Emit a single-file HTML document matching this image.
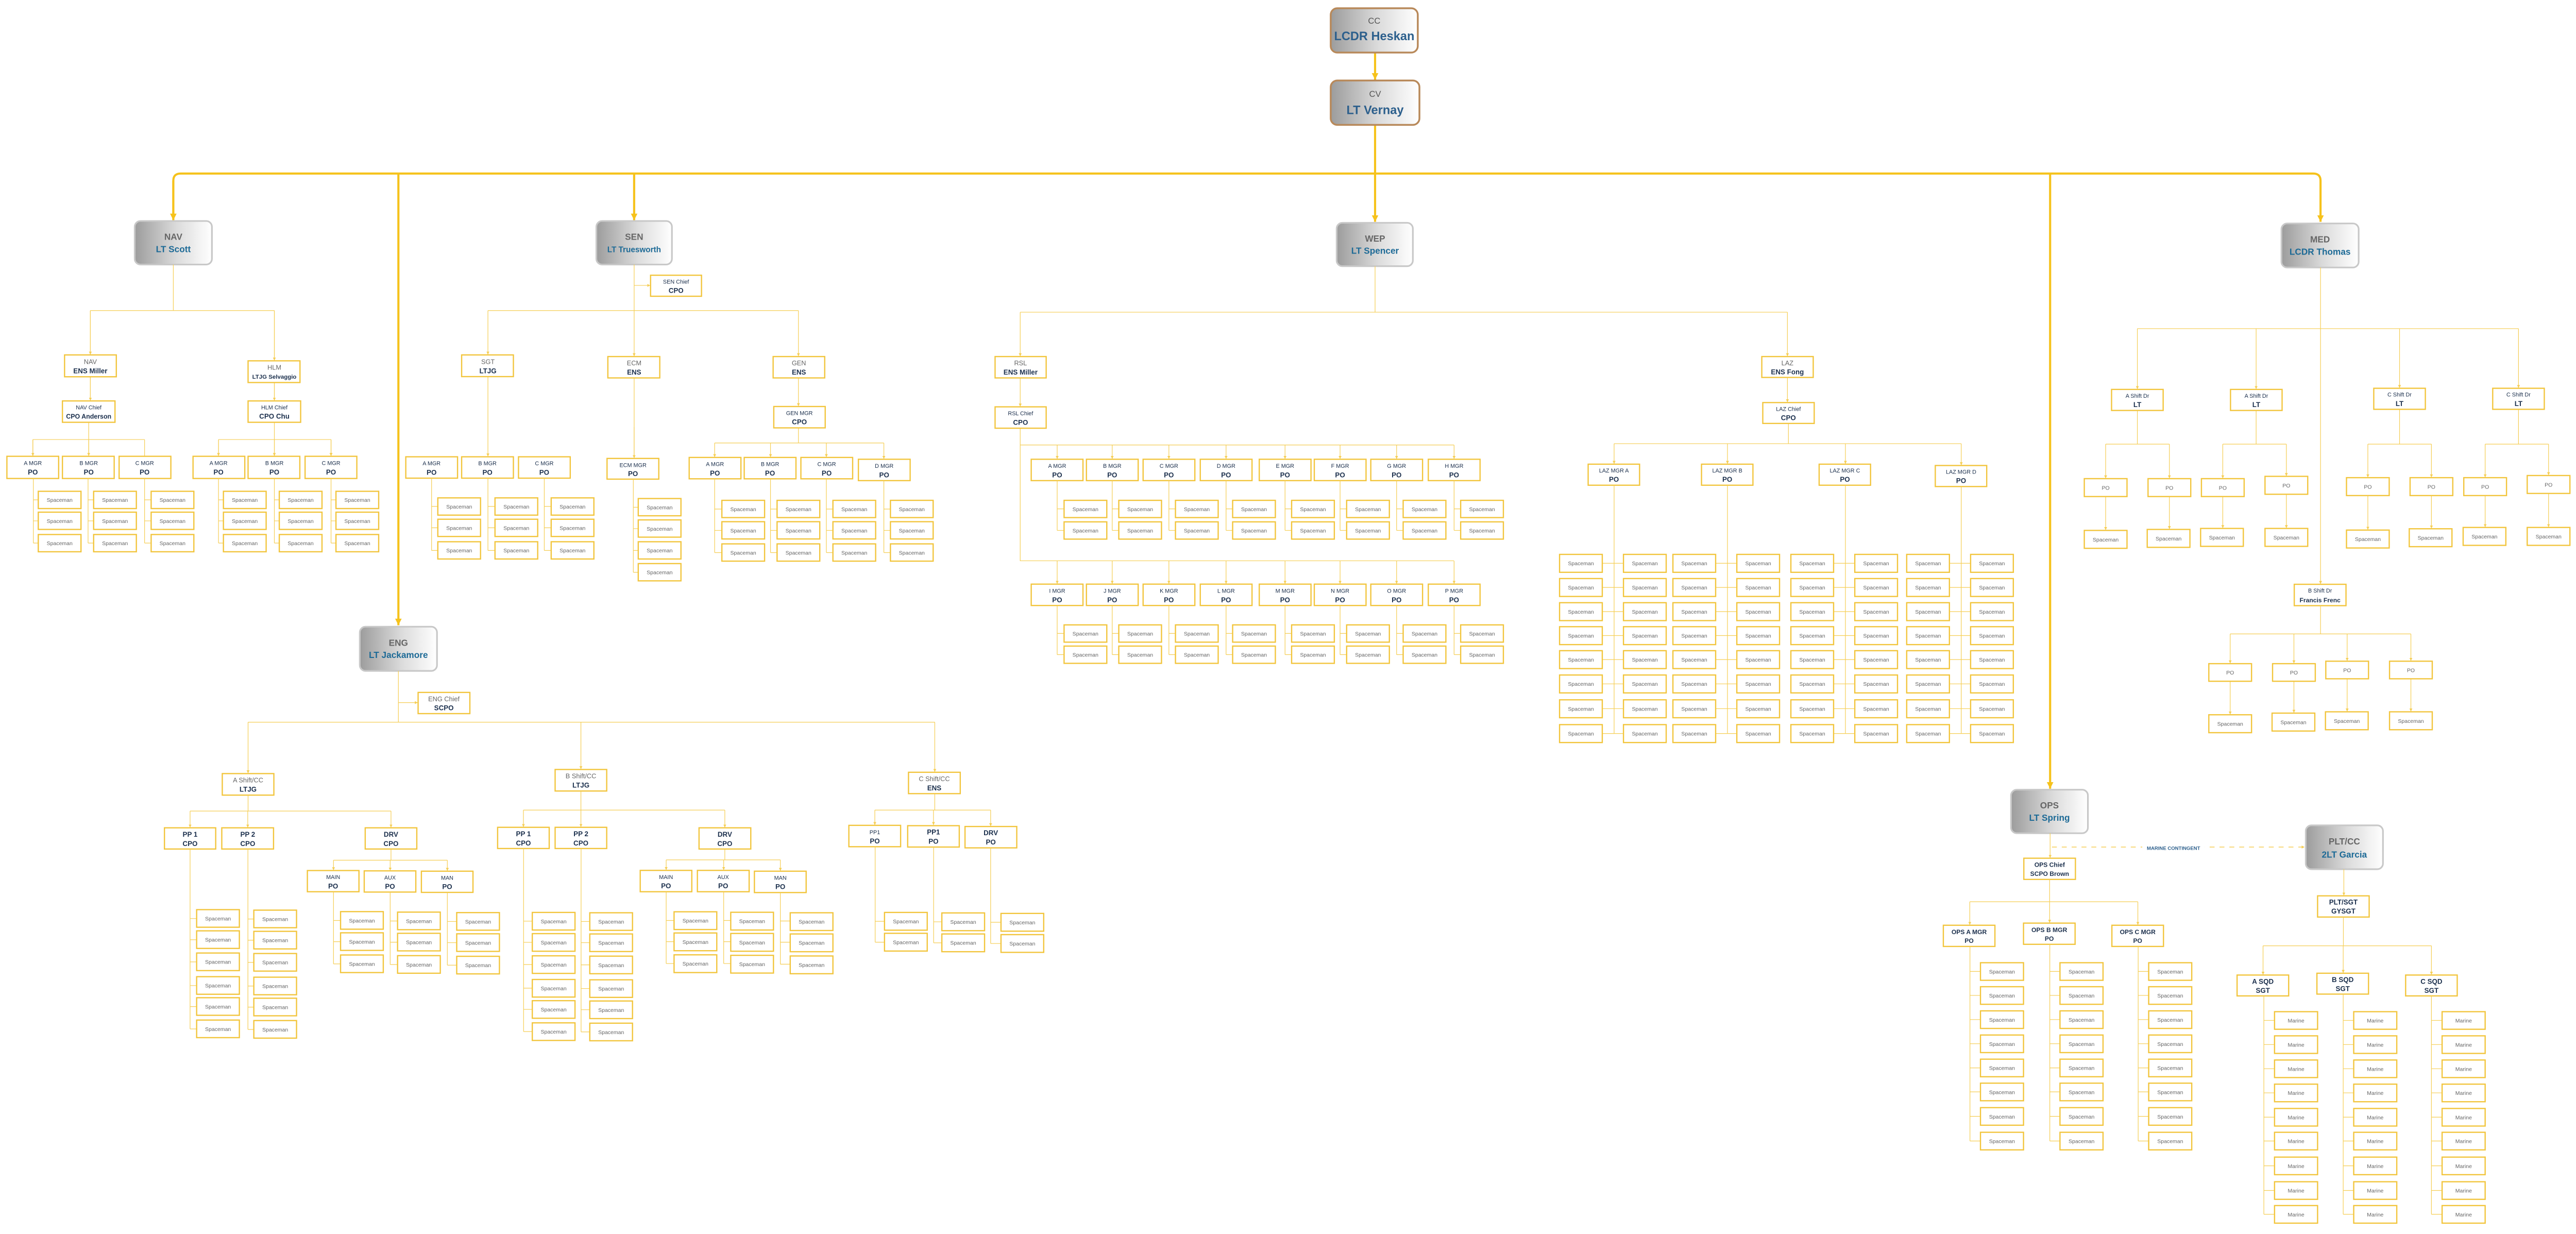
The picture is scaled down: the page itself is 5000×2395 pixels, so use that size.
<!DOCTYPE html>
<html><head><meta charset="utf-8"><style>
html,body{margin:0;padding:0;background:#fff}
svg{display:block}
.b{fill:#fff;stroke:#F2C53D;stroke-width:.75}
.l{fill:none;stroke:#F5CE55;stroke-width:.38}
.L{fill:none;stroke:#F6C21B;stroke-width:1.3}
text{font-family:"Liberation Sans",Arial,sans-serif;text-anchor:middle}
.t{font-size:3.3px;fill:#666}
.h{font-size:3.4px;fill:#1b2f4c}
.g{font-size:4px;fill:#666}
.p{font-size:4.2px;font-weight:bold;fill:#1b2f4c}
.bt{font-size:5.4px;font-weight:bold;fill:#666}
.bn{font-size:5.4px;font-weight:bold;fill:#1d6a96}
</style></head><body>
<svg width="5000" height="2395" viewBox="0 0 1568 751" preserveAspectRatio="none" xmlns="http://www.w3.org/2000/svg">
<defs>
<linearGradient id="gr" x1="0" y1="0" x2="1" y2="0"><stop offset="0" stop-color="#9c9c9c"/><stop offset=".55" stop-color="#dcdcdc"/><stop offset="1" stop-color="#fff"/></linearGradient>
<marker id="a" viewBox="0 0 10 10" refX="10" refY="5" markerWidth="1.8" markerHeight="1.8" markerUnits="userSpaceOnUse" orient="auto"><path d="M0 0L10 5L0 10z" fill="#F5CE55"/></marker>
<marker id="A" viewBox="0 0 10 10" refX="10" refY="5" markerWidth="4" markerHeight="4" markerUnits="userSpaceOnUse" orient="auto"><path d="M0 0L10 5L0 10z" fill="#F6C21B"/></marker>
</defs>

<!-- main thick connectors -->
<path class="L" d="M837 31.8V48.5" marker-end="url(#A)"/>
<path class="L" d="M837 76V105.6"/>
<path class="L" d="M105.5 133V110Q105.5 105.6 110 105.6H1408Q1412.5 105.6 1412.5 110V135" marker-end="url(#A)"/>
<path class="L" d="M105.5 110V134" marker-end="url(#A)"/>
<path class="L" d="M386 105.6V134" marker-end="url(#A)"/>
<path class="L" d="M837 105.6V135" marker-end="url(#A)"/>
<path class="L" d="M242.5 105.6V380.5" marker-end="url(#A)"/>
<path class="L" d="M1247.9 105.6V480" marker-end="url(#A)"/>

<!-- big boxes -->
<rect x="810" y="5" width="53" height="27" rx="4" fill="url(#gr)" stroke="#b8895a" stroke-width="1.1"/>
<text x="836.5" y="14.5" style="font-size:5.2px;fill:#555">CC</text><text x="836.5" y="24.5" style="font-size:7.4px;font-weight:bold;fill:#2c5f8c">LCDR Heskan</text>
<rect x="810" y="49" width="54" height="27" rx="4" fill="url(#gr)" stroke="#b8895a" stroke-width="1.1"/>
<text x="837" y="59" style="font-size:5.2px;fill:#555">CV</text><text x="837" y="69.5" style="font-size:7.4px;font-weight:bold;fill:#2c5f8c">LT Vernay</text>

<rect x="82" y="134.5" width="47" height="26.5" rx="3.5" fill="url(#gr)" stroke="#c8c8c8" stroke-width="1"/>
<text class="bt" x="105.5" y="146">NAV</text><text class="bn" x="105.5" y="153.5">LT Scott</text>
<rect x="363" y="134.5" width="46" height="26.5" rx="3.5" fill="url(#gr)" stroke="#c8c8c8" stroke-width="1"/>
<text class="bt" x="386" y="146">SEN</text><text class="bn" x="386" y="153.5" style="font-size:4.8px">LT Truesworth</text>
<rect x="813.6" y="135.6" width="46.4" height="26.4" rx="3.5" fill="url(#gr)" stroke="#c8c8c8" stroke-width="1"/>
<text class="bt" x="837" y="147">WEP</text><text class="bn" x="837" y="154.5">LT Spencer</text>
<rect x="1388.7" y="136" width="47" height="26.8" rx="3.5" fill="url(#gr)" stroke="#c8c8c8" stroke-width="1"/>
<text class="bt" x="1412.2" y="147.5">MED</text><text class="bn" x="1412.2" y="155">LCDR Thomas</text>
<rect x="219" y="381.4" width="47" height="26.9" rx="3.5" fill="url(#gr)" stroke="#c8c8c8" stroke-width="1"/>
<text class="bt" x="242.5" y="393">ENG</text><text class="bn" x="242.5" y="400.5">LT Jackamore</text>
<rect x="1224.1" y="480.6" width="46.8" height="26.5" rx="3.5" fill="url(#gr)" stroke="#c8c8c8" stroke-width="1"/>
<text class="bt" x="1247.5" y="492">OPS</text><text class="bn" x="1247.5" y="499.5">LT Spring</text>
<rect x="1403.5" y="502.3" width="47" height="26.7" rx="3.5" fill="url(#gr)" stroke="#c8c8c8" stroke-width="1"/>
<text class="bt" x="1427" y="514">PLT/CC</text><text class="bn" x="1427" y="522">2LT Garcia</text>

<!-- ===== NAV ===== -->
<path class="l" d="M105.5 161V189M55 189H167M55 189V215.8M167 189V219.4M55 229.3V243.8M167 232.8V243.8M54 257V267.5M20 267.5H88M20 267.5V277.5M54 267.5V277.5M88 267.5V277.5M167 257V267.5M133 267.5H201.5M133 267.5V277.5M167 267.5V277.5M201.5 267.5V277.5" marker-end="url(#a)"/>
<path class="l" d="M55 189V215.8" marker-end="url(#a)"/><path class="l" d="M167 189V219.4" marker-end="url(#a)"/><path class="l" d="M55 229.3V243.8" marker-end="url(#a)"/><path class="l" d="M167 232.8V243.8" marker-end="url(#a)"/>
<path class="l" d="M20 267.5V277.5" marker-end="url(#a)"/><path class="l" d="M54 267.5V277.5" marker-end="url(#a)"/><path class="l" d="M133 267.5V277.5" marker-end="url(#a)"/><path class="l" d="M167 267.5V277.5" marker-end="url(#a)"/><path class="l" d="M201.5 267.5V277.5" marker-end="url(#a)"/>
<rect class="b" x="39.3" y="216" width="31.5" height="13.3"/><text class="g" x="55" y="221.6">NAV</text><text class="p" x="55" y="227.2">ENS Miller</text>
<rect class="b" x="38" y="244" width="32" height="13"/><text class="h" x="54" y="249.2">NAV Chief</text><text class="p" x="54" y="254.8" style="font-size:3.9px">CPO Anderson</text>
<rect class="b" x="151" y="219.6" width="31.6" height="13.2"/><text class="g" x="167" y="225">HLM</text><text class="p" x="167" y="230.5" style="font-size:3.6px">LTJG Selvaggio</text>
<rect class="b" x="151" y="244" width="32" height="13"/><text class="h" x="167" y="249.2">HLM Chief</text><text class="p" x="167" y="254.8">CPO Chu</text>
<rect class="b" x="4.2" y="277.7" width="31.5" height="13.5"/><text class="h" x="20" y="283">A MGR</text><text class="p" x="20" y="288.8">PO</text>
<rect class="b" x="38" y="277.7" width="31.5" height="13.5"/><text class="h" x="54" y="283">B MGR</text><text class="p" x="54" y="288.8">PO</text>
<rect class="b" x="72.5" y="277.7" width="31.5" height="13.5"/><text class="h" x="88" y="283">C MGR</text><text class="p" x="88" y="288.8">PO</text>
<rect class="b" x="117.5" y="277.7" width="31.5" height="13.5"/><text class="h" x="133" y="283">A MGR</text><text class="p" x="133" y="288.8">PO</text>
<rect class="b" x="151" y="277.7" width="31.5" height="13.5"/><text class="h" x="167" y="283">B MGR</text><text class="p" x="167" y="288.8">PO</text>
<rect class="b" x="185.7" y="277.7" width="31.5" height="13.5"/><text class="h" x="201.5" y="283">C MGR</text><text class="p" x="201.5" y="288.8">PO</text>
<path class="l" d="M20.3 291.2V330.5M20.3 304.2H23.3M20.3 317H23.3M20.3 330.5H23.3M53.6 291.2V330.5M53.6 304.2H57M53.6 317H57M53.6 330.5H57M88 291.2V330.5M88 304.2H92M88 317H92M88 330.5H92M133 291.2V330.5M133 304.2H136M133 317H136M133 330.5H136M167 291.2V330.5M167 304.2H170M167 317H170M167 330.5H170M201.5 291.2V330.5M201.5 304.2H204.5M201.5 317H204.5M201.5 330.5H204.5"/>
<rect class="b" x="23.3" y="299" width="26" height="10.5"/><text class="t" x="36.3" y="305.5">Spaceman</text>
<rect class="b" x="23.3" y="311.7" width="26" height="10.5"/><text class="t" x="36.3" y="318.2">Spaceman</text>
<rect class="b" x="23.3" y="325.3" width="26" height="10.5"/><text class="t" x="36.3" y="331.8">Spaceman</text>
<rect class="b" x="57" y="299" width="26" height="10.5"/><text class="t" x="70" y="305.5">Spaceman</text>
<rect class="b" x="57" y="311.7" width="26" height="10.5"/><text class="t" x="70" y="318.2">Spaceman</text>
<rect class="b" x="57" y="325.3" width="26" height="10.5"/><text class="t" x="70" y="331.8">Spaceman</text>
<rect class="b" x="92" y="299" width="26" height="10.5"/><text class="t" x="105" y="305.5">Spaceman</text>
<rect class="b" x="92" y="311.7" width="26" height="10.5"/><text class="t" x="105" y="318.2">Spaceman</text>
<rect class="b" x="92" y="325.3" width="26" height="10.5"/><text class="t" x="105" y="331.8">Spaceman</text>
<rect class="b" x="136" y="299" width="26" height="10.5"/><text class="t" x="149" y="305.5">Spaceman</text>
<rect class="b" x="136" y="311.7" width="26" height="10.5"/><text class="t" x="149" y="318.2">Spaceman</text>
<rect class="b" x="136" y="325.3" width="26" height="10.5"/><text class="t" x="149" y="331.8">Spaceman</text>
<rect class="b" x="170" y="299" width="26" height="10.5"/><text class="t" x="183" y="305.5">Spaceman</text>
<rect class="b" x="170" y="311.7" width="26" height="10.5"/><text class="t" x="183" y="318.2">Spaceman</text>
<rect class="b" x="170" y="325.3" width="26" height="10.5"/><text class="t" x="183" y="331.8">Spaceman</text>
<rect class="b" x="204.5" y="299" width="26" height="10.5"/><text class="t" x="217.5" y="305.5">Spaceman</text>
<rect class="b" x="204.5" y="311.7" width="26" height="10.5"/><text class="t" x="217.5" y="318.2">Spaceman</text>
<rect class="b" x="204.5" y="325.3" width="26" height="10.5"/><text class="t" x="217.5" y="331.8">Spaceman</text>

<!-- ===== SEN ===== -->
<path class="l" d="M386 161V189M297 189H486M386 260V279"/>
<path class="l" d="M386 173.7H395.8" marker-end="url(#a)"/>
<path class="l" d="M297 189V215.8" marker-end="url(#a)"/><path class="l" d="M386 189V216.8" marker-end="url(#a)"/><path class="l" d="M486 189V216.8" marker-end="url(#a)"/>
<path class="l" d="M297 229.2V277.8" marker-end="url(#a)"/><path class="l" d="M386 230V278.8" marker-end="url(#a)"/><path class="l" d="M486 230V247.2" marker-end="url(#a)"/>
<path class="l" d="M486 260.4V269.6M435 269.6H538"/>
<path class="l" d="M435 269.6V278.2" marker-end="url(#a)"/><path class="l" d="M469 269.6V278.2" marker-end="url(#a)"/><path class="l" d="M503 269.6V278.2" marker-end="url(#a)"/><path class="l" d="M538 269.6V279.3" marker-end="url(#a)"/>
<rect class="b" x="396" y="167.5" width="31" height="12.8"/><text class="h" x="411.5" y="172.7">SEN Chief</text><text class="p" x="411.5" y="178.3">CPO</text>
<rect class="b" x="281" y="216" width="31.5" height="13.2"/><text class="g" x="297" y="221.5">SGT</text><text class="p" x="297" y="227.2">LTJG</text>
<rect class="b" x="370" y="217" width="31.6" height="13"/><text class="g" x="386" y="222.4">ECM</text><text class="p" x="386" y="228">ENS</text>
<rect class="b" x="470.6" y="217" width="31.4" height="13"/><text class="g" x="486.3" y="222.4">GEN</text><text class="p" x="486.3" y="228">ENS</text>
<rect class="b" x="471" y="247.4" width="31.3" height="13"/><text class="h" x="486.6" y="252.6">GEN MGR</text><text class="p" x="486.6" y="258.2">CPO</text>
<rect class="b" x="247" y="278" width="31.5" height="13"/><text class="h" x="262.7" y="283.2">A MGR</text><text class="p" x="262.7" y="289">PO</text>
<rect class="b" x="281" y="278" width="31.5" height="13"/><text class="h" x="296.7" y="283.2">B MGR</text><text class="p" x="296.7" y="289">PO</text>
<rect class="b" x="315.6" y="278" width="31.5" height="13"/><text class="h" x="331.3" y="283.2">C MGR</text><text class="p" x="331.3" y="289">PO</text>
<rect class="b" x="369.5" y="279" width="31.5" height="12.6"/><text class="h" x="385.3" y="284.2">ECM MGR</text><text class="p" x="385.3" y="289.8">PO</text>
<rect class="b" x="419.5" y="278.4" width="31.5" height="13"/><text class="h" x="435.2" y="283.6">A MGR</text><text class="p" x="435.2" y="289.4">PO</text>
<rect class="b" x="453" y="278.4" width="31.5" height="13"/><text class="h" x="468.7" y="283.6">B MGR</text><text class="p" x="468.7" y="289.4">PO</text>
<rect class="b" x="487.5" y="278.4" width="31.5" height="13"/><text class="h" x="503.2" y="283.6">C MGR</text><text class="p" x="503.2" y="289.4">PO</text>
<rect class="b" x="522.5" y="279.5" width="31.5" height="13"/><text class="h" x="538.2" y="284.7">D MGR</text><text class="p" x="538.2" y="290.5">PO</text>
<path class="l" d="M262.7 291V335M262.7 308.2H266.5M262.7 321.2H266.5M262.7 335H266.5M297 291V335M297 308.2H301.3M297 321.2H301.3M297 335H301.3M331.3 291V335M331.3 308.2H335.5M331.3 321.2H335.5M331.3 335H335.5M385.5 291.6V348.3M385.5 308.7H388.5M385.5 321.7H388.5M385.5 335H388.5M385.5 348.3H388.5M435 291.4V336.3M435 309.8H439.4M435 322.8H439.4M435 336.3H439.4M469 291.4V336.3M469 309.8H473M469 322.8H473M469 336.3H473M503 291.4V336.3M503 309.8H507M503 322.8H507M503 336.3H507M538 292.5V336.3M538 309.8H542M538 322.8H542M538 336.3H542"/>
<rect class="b" x="266.5" y="303" width="26" height="10.5"/><text class="t" x="279.5" y="309.5">Spaceman</text>
<rect class="b" x="266.5" y="316" width="26" height="10.5"/><text class="t" x="279.5" y="322.5">Spaceman</text>
<rect class="b" x="266.5" y="329.7" width="26" height="10.5"/><text class="t" x="279.5" y="336.2">Spaceman</text>
<rect class="b" x="301.3" y="303" width="26" height="10.5"/><text class="t" x="314.3" y="309.5">Spaceman</text>
<rect class="b" x="301.3" y="316" width="26" height="10.5"/><text class="t" x="314.3" y="322.5">Spaceman</text>
<rect class="b" x="301.3" y="329.7" width="26" height="10.5"/><text class="t" x="314.3" y="336.2">Spaceman</text>
<rect class="b" x="335.5" y="303" width="26" height="10.5"/><text class="t" x="348.5" y="309.5">Spaceman</text>
<rect class="b" x="335.5" y="316" width="26" height="10.5"/><text class="t" x="348.5" y="322.5">Spaceman</text>
<rect class="b" x="335.5" y="329.7" width="26" height="10.5"/><text class="t" x="348.5" y="336.2">Spaceman</text>
<rect class="b" x="388.5" y="303.4" width="26" height="10.5"/><text class="t" x="401.5" y="309.9">Spaceman</text>
<rect class="b" x="388.5" y="316.4" width="26" height="10.5"/><text class="t" x="401.5" y="322.9">Spaceman</text>
<rect class="b" x="388.5" y="329.7" width="26" height="10.5"/><text class="t" x="401.5" y="336.2">Spaceman</text>
<rect class="b" x="388.5" y="343" width="26" height="10.5"/><text class="t" x="401.5" y="349.5">Spaceman</text>
<rect class="b" x="439.4" y="304.5" width="26" height="10.5"/><text class="t" x="452.4" y="311">Spaceman</text>
<rect class="b" x="439.4" y="317.5" width="26" height="10.5"/><text class="t" x="452.4" y="324">Spaceman</text>
<rect class="b" x="439.4" y="331" width="26" height="10.5"/><text class="t" x="452.4" y="337.5">Spaceman</text>
<rect class="b" x="473" y="304.5" width="26" height="10.5"/><text class="t" x="486" y="311">Spaceman</text>
<rect class="b" x="473" y="317.5" width="26" height="10.5"/><text class="t" x="486" y="324">Spaceman</text>
<rect class="b" x="473" y="331" width="26" height="10.5"/><text class="t" x="486" y="337.5">Spaceman</text>
<rect class="b" x="507" y="304.5" width="26" height="10.5"/><text class="t" x="520" y="311">Spaceman</text>
<rect class="b" x="507" y="317.5" width="26" height="10.5"/><text class="t" x="520" y="324">Spaceman</text>
<rect class="b" x="507" y="331" width="26" height="10.5"/><text class="t" x="520" y="337.5">Spaceman</text>
<rect class="b" x="542" y="304.5" width="26" height="10.5"/><text class="t" x="555" y="311">Spaceman</text>
<rect class="b" x="542" y="317.5" width="26" height="10.5"/><text class="t" x="555" y="324">Spaceman</text>
<rect class="b" x="542" y="331" width="26" height="10.5"/><text class="t" x="555" y="337.5">Spaceman</text>

<!-- ===== WEP / RSL ===== -->
<path class="l" d="M837 162V190M621 190H1088M621 260.6V341.3H885M621 270.8H885"/>
<path class="l" d="M621 190V216.8" marker-end="url(#a)"/><path class="l" d="M1088 190V216.8" marker-end="url(#a)"/><path class="l" d="M621 230V247.4" marker-end="url(#a)"/>
<path class="l" d="M643.5 270.8V279.3" marker-end="url(#a)"/><path class="l" d="M677 270.8V279.3" marker-end="url(#a)"/><path class="l" d="M711.5 270.8V279.3" marker-end="url(#a)"/><path class="l" d="M746.3 270.8V279.3" marker-end="url(#a)"/><path class="l" d="M782.2 270.8V279.3" marker-end="url(#a)"/><path class="l" d="M815.7 270.8V279.3" marker-end="url(#a)"/><path class="l" d="M850.1 270.8V279.3" marker-end="url(#a)"/><path class="l" d="M885.1 270.8V279.3" marker-end="url(#a)"/>
<path class="l" d="M643.5 341.3V355.3" marker-end="url(#a)"/><path class="l" d="M677 341.3V355.3" marker-end="url(#a)"/><path class="l" d="M711.5 341.3V355.3" marker-end="url(#a)"/><path class="l" d="M746.3 341.3V355.3" marker-end="url(#a)"/><path class="l" d="M782.2 341.3V355.3" marker-end="url(#a)"/><path class="l" d="M815.7 341.3V355.3" marker-end="url(#a)"/><path class="l" d="M850.1 341.3V355.3" marker-end="url(#a)"/><path class="l" d="M885.1 341.3V355.3" marker-end="url(#a)"/>
<rect class="b" x="605.7" y="217" width="31.1" height="13"/><text class="g" x="621.2" y="222.4">RSL</text><text class="p" x="621.2" y="228">ENS Miller</text>
<rect class="b" x="605.7" y="247.6" width="31.1" height="13"/><text class="h" x="621.2" y="252.8">RSL Chief</text><text class="p" x="621.2" y="258.5">CPO</text>
<g>
<rect class="b" x="627.7" y="279.5" width="31.5" height="13"/><text class="h" x="643.5" y="284.7">A MGR</text><text class="p" x="643.5" y="290.5">PO</text>
<rect class="b" x="661.3" y="279.5" width="31.5" height="13"/><text class="h" x="677" y="284.7">B MGR</text><text class="p" x="677" y="290.5">PO</text>
<rect class="b" x="695.8" y="279.5" width="31.5" height="13"/><text class="h" x="711.5" y="284.7">C MGR</text><text class="p" x="711.5" y="290.5">PO</text>
<rect class="b" x="730.6" y="279.5" width="31.5" height="13"/><text class="h" x="746.3" y="284.7">D MGR</text><text class="p" x="746.3" y="290.5">PO</text>
<rect class="b" x="766.5" y="279.5" width="31.5" height="13"/><text class="h" x="782.2" y="284.7">E MGR</text><text class="p" x="782.2" y="290.5">PO</text>
<rect class="b" x="800" y="279.5" width="31.5" height="13"/><text class="h" x="815.7" y="284.7">F MGR</text><text class="p" x="815.7" y="290.5">PO</text>
<rect class="b" x="834.4" y="279.5" width="31.5" height="13"/><text class="h" x="850.1" y="284.7">G MGR</text><text class="p" x="850.1" y="290.5">PO</text>
<rect class="b" x="869.4" y="279.5" width="31.5" height="13"/><text class="h" x="885.1" y="284.7">H MGR</text><text class="p" x="885.1" y="290.5">PO</text>
<rect class="b" x="627.7" y="355.5" width="31.5" height="13"/><text class="h" x="643.5" y="360.7">I MGR</text><text class="p" x="643.5" y="366.5">PO</text>
<rect class="b" x="661.3" y="355.5" width="31.5" height="13"/><text class="h" x="677" y="360.7">J MGR</text><text class="p" x="677" y="366.5">PO</text>
<rect class="b" x="695.8" y="355.5" width="31.5" height="13"/><text class="h" x="711.5" y="360.7">K MGR</text><text class="p" x="711.5" y="366.5">PO</text>
<rect class="b" x="730.6" y="355.5" width="31.5" height="13"/><text class="h" x="746.3" y="360.7">L MGR</text><text class="p" x="746.3" y="366.5">PO</text>
<rect class="b" x="766.5" y="355.5" width="31.5" height="13"/><text class="h" x="782.2" y="360.7">M MGR</text><text class="p" x="782.2" y="366.5">PO</text>
<rect class="b" x="800" y="355.5" width="31.5" height="13"/><text class="h" x="815.7" y="360.7">N MGR</text><text class="p" x="815.7" y="366.5">PO</text>
<rect class="b" x="834.4" y="355.5" width="31.5" height="13"/><text class="h" x="850.1" y="360.7">O MGR</text><text class="p" x="850.1" y="366.5">PO</text>
<rect class="b" x="869.4" y="355.5" width="31.5" height="13"/><text class="h" x="885.1" y="360.7">P MGR</text><text class="p" x="885.1" y="366.5">PO</text>
</g>
<path class="l" d="M643.5 292.5V322.8M643.5 309.7H647.7M643.5 322.8H647.7M677 292.5V322.8M677 309.7H681M677 322.8H681M711.5 292.5V322.8M711.5 309.7H715.5M711.5 322.8H715.5M746.3 292.5V322.8M746.3 309.7H750.3M746.3 322.8H750.3M782.2 292.5V322.8M782.2 309.7H786.2M782.2 322.8H786.2M815.7 292.5V322.8M815.7 309.7H819.7M815.7 322.8H819.7M850.1 292.5V322.8M850.1 309.7H854.1M850.1 322.8H854.1M885.1 292.5V322.8M885.1 309.7H889.1M885.1 322.8H889.1
M643.5 368.5V398.4M643.5 385.5H647.7M643.5 398.4H647.7M677 368.5V398.4M677 385.5H681M677 398.4H681M711.5 368.5V398.4M711.5 385.5H715.5M711.5 398.4H715.5M746.3 368.5V398.4M746.3 385.5H750.3M746.3 398.4H750.3M782.2 368.5V398.4M782.2 385.5H786.2M782.2 398.4H786.2M815.7 368.5V398.4M815.7 385.5H819.7M815.7 398.4H819.7M850.1 368.5V398.4M850.1 385.5H854.1M850.1 398.4H854.1M885.1 368.5V398.4M885.1 385.5H889.1M885.1 398.4H889.1"/>
<rect class="b" x="647.7" y="304.5" width="26" height="10.5"/><text class="t" x="660.7" y="311">Spaceman</text>
<rect class="b" x="647.7" y="317.6" width="26" height="10.5"/><text class="t" x="660.7" y="324.1">Spaceman</text>
<rect class="b" x="681" y="304.5" width="26" height="10.5"/><text class="t" x="694" y="311">Spaceman</text>
<rect class="b" x="681" y="317.6" width="26" height="10.5"/><text class="t" x="694" y="324.1">Spaceman</text>
<rect class="b" x="715.5" y="304.5" width="26" height="10.5"/><text class="t" x="728.5" y="311">Spaceman</text>
<rect class="b" x="715.5" y="317.6" width="26" height="10.5"/><text class="t" x="728.5" y="324.1">Spaceman</text>
<rect class="b" x="750.3" y="304.5" width="26" height="10.5"/><text class="t" x="763.3" y="311">Spaceman</text>
<rect class="b" x="750.3" y="317.6" width="26" height="10.5"/><text class="t" x="763.3" y="324.1">Spaceman</text>
<rect class="b" x="786.2" y="304.5" width="26" height="10.5"/><text class="t" x="799.2" y="311">Spaceman</text>
<rect class="b" x="786.2" y="317.6" width="26" height="10.5"/><text class="t" x="799.2" y="324.1">Spaceman</text>
<rect class="b" x="819.7" y="304.5" width="26" height="10.5"/><text class="t" x="832.7" y="311">Spaceman</text>
<rect class="b" x="819.7" y="317.6" width="26" height="10.5"/><text class="t" x="832.7" y="324.1">Spaceman</text>
<rect class="b" x="854.1" y="304.5" width="26" height="10.5"/><text class="t" x="867.1" y="311">Spaceman</text>
<rect class="b" x="854.1" y="317.6" width="26" height="10.5"/><text class="t" x="867.1" y="324.1">Spaceman</text>
<rect class="b" x="889.1" y="304.5" width="26" height="10.5"/><text class="t" x="902.1" y="311">Spaceman</text>
<rect class="b" x="889.1" y="317.6" width="26" height="10.5"/><text class="t" x="902.1" y="324.1">Spaceman</text>
<rect class="b" x="647.7" y="380.3" width="26" height="10.5"/><text class="t" x="660.7" y="386.8">Spaceman</text>
<rect class="b" x="647.7" y="393.2" width="26" height="10.5"/><text class="t" x="660.7" y="399.7">Spaceman</text>
<rect class="b" x="681" y="380.3" width="26" height="10.5"/><text class="t" x="694" y="386.8">Spaceman</text>
<rect class="b" x="681" y="393.2" width="26" height="10.5"/><text class="t" x="694" y="399.7">Spaceman</text>
<rect class="b" x="715.5" y="380.3" width="26" height="10.5"/><text class="t" x="728.5" y="386.8">Spaceman</text>
<rect class="b" x="715.5" y="393.2" width="26" height="10.5"/><text class="t" x="728.5" y="399.7">Spaceman</text>
<rect class="b" x="750.3" y="380.3" width="26" height="10.5"/><text class="t" x="763.3" y="386.8">Spaceman</text>
<rect class="b" x="750.3" y="393.2" width="26" height="10.5"/><text class="t" x="763.3" y="399.7">Spaceman</text>
<rect class="b" x="786.2" y="380.3" width="26" height="10.5"/><text class="t" x="799.2" y="386.8">Spaceman</text>
<rect class="b" x="786.2" y="393.2" width="26" height="10.5"/><text class="t" x="799.2" y="399.7">Spaceman</text>
<rect class="b" x="819.7" y="380.3" width="26" height="10.5"/><text class="t" x="832.7" y="386.8">Spaceman</text>
<rect class="b" x="819.7" y="393.2" width="26" height="10.5"/><text class="t" x="832.7" y="399.7">Spaceman</text>
<rect class="b" x="854.1" y="380.3" width="26" height="10.5"/><text class="t" x="867.1" y="386.8">Spaceman</text>
<rect class="b" x="854.1" y="393.2" width="26" height="10.5"/><text class="t" x="867.1" y="399.7">Spaceman</text>
<rect class="b" x="889.1" y="380.3" width="26" height="10.5"/><text class="t" x="902.1" y="386.8">Spaceman</text>
<rect class="b" x="889.1" y="393.2" width="26" height="10.5"/><text class="t" x="902.1" y="399.7">Spaceman</text>

<!-- ===== LAZ ===== -->
<path class="l" d="M1088 229.7V244.8" marker-end="url(#a)"/>
<path class="l" d="M1088.6 257.7V270M982.5 270H1193.8"/>
<path class="l" d="M982.5 270V282.3" marker-end="url(#a)"/><path class="l" d="M1051.5 270V282.3" marker-end="url(#a)"/><path class="l" d="M1123.3 270V282.3" marker-end="url(#a)"/><path class="l" d="M1193.8 270V283.1" marker-end="url(#a)"/>
<rect class="b" x="1072.4" y="217" width="31.3" height="12.7"/><text class="g" x="1088" y="222.3">LAZ</text><text class="p" x="1088" y="227.8">ENS Fong</text>
<rect class="b" x="1073" y="245" width="31.3" height="12.7"/><text class="h" x="1088.6" y="250.1">LAZ Chief</text><text class="p" x="1088.6" y="255.7">CPO</text>
<rect class="b" x="966.7" y="282.5" width="31.3" height="12.8"/><text class="h" x="982.4" y="287.6">LAZ MGR A</text><text class="p" x="982.4" y="293.2">PO</text>
<rect class="b" x="1035.7" y="282.5" width="31.3" height="12.8"/><text class="h" x="1051.4" y="287.6">LAZ MGR B</text><text class="p" x="1051.4" y="293.2">PO</text>
<rect class="b" x="1107.3" y="282.5" width="31.3" height="12.8"/><text class="h" x="1123" y="287.6">LAZ MGR C</text><text class="p" x="1123" y="293.2">PO</text>
<rect class="b" x="1178" y="283.3" width="31.3" height="12.8"/><text class="h" x="1193.7" y="288.4">LAZ MGR D</text><text class="p" x="1193.7" y="294">PO</text>
<path class="l" d="M982.5 295.3V446.4M975.3 342.8H988.2M975.3 357.5H988.2M975.3 372.2H988.2M975.3 386.8H988.2M975.3 401.4H988.2M975.3 416.2H988.2M975.3 431.3H988.2M975.3 446.4H988.2
M1051.5 295.3V446.4M1044.3 342.8H1057.2M1044.3 357.5H1057.2M1044.3 372.2H1057.2M1044.3 386.8H1057.2M1044.3 401.4H1057.2M1044.3 416.2H1057.2M1044.3 431.3H1057.2M1044.3 446.4H1057.2
M1123.3 295.3V446.4M1116.1 342.8H1129M1116.1 357.5H1129M1116.1 372.2H1129M1116.1 386.8H1129M1116.1 401.4H1129M1116.1 416.2H1129M1116.1 431.3H1129M1116.1 446.4H1129
M1193.8 296.1V446.4M1186.6 342.8H1199.5M1186.6 357.5H1199.5M1186.6 372.2H1199.5M1186.6 386.8H1199.5M1186.6 401.4H1199.5M1186.6 416.2H1199.5M1186.6 431.3H1199.5M1186.6 446.4H1199.5"/>
<g>
<rect class="b" x="949.3" y="337.4" width="26" height="10.9"/><text class="t" x="962.3" y="344">Spaceman</text><rect class="b" x="988.2" y="337.4" width="26" height="10.9"/><text class="t" x="1001.2" y="344">Spaceman</text>
<rect class="b" x="949.3" y="352.1" width="26" height="10.9"/><text class="t" x="962.3" y="358.7">Spaceman</text><rect class="b" x="988.2" y="352.1" width="26" height="10.9"/><text class="t" x="1001.2" y="358.7">Spaceman</text>
<rect class="b" x="949.3" y="366.8" width="26" height="10.9"/><text class="t" x="962.3" y="373.4">Spaceman</text><rect class="b" x="988.2" y="366.8" width="26" height="10.9"/><text class="t" x="1001.2" y="373.4">Spaceman</text>
<rect class="b" x="949.3" y="381.4" width="26" height="10.9"/><text class="t" x="962.3" y="388">Spaceman</text><rect class="b" x="988.2" y="381.4" width="26" height="10.9"/><text class="t" x="1001.2" y="388">Spaceman</text>
<rect class="b" x="949.3" y="396" width="26" height="10.9"/><text class="t" x="962.3" y="402.6">Spaceman</text><rect class="b" x="988.2" y="396" width="26" height="10.9"/><text class="t" x="1001.2" y="402.6">Spaceman</text>
<rect class="b" x="949.3" y="410.8" width="26" height="10.9"/><text class="t" x="962.3" y="417.4">Spaceman</text><rect class="b" x="988.2" y="410.8" width="26" height="10.9"/><text class="t" x="1001.2" y="417.4">Spaceman</text>
<rect class="b" x="949.3" y="425.9" width="26" height="10.9"/><text class="t" x="962.3" y="432.5">Spaceman</text><rect class="b" x="988.2" y="425.9" width="26" height="10.9"/><text class="t" x="1001.2" y="432.5">Spaceman</text>
<rect class="b" x="949.3" y="441" width="26" height="10.9"/><text class="t" x="962.3" y="447.6">Spaceman</text><rect class="b" x="988.2" y="441" width="26" height="10.9"/><text class="t" x="1001.2" y="447.6">Spaceman</text>
</g>
<g>
<rect class="b" x="1018.3" y="337.4" width="26" height="10.9"/><text class="t" x="1031.3" y="344">Spaceman</text><rect class="b" x="1057.2" y="337.4" width="26" height="10.9"/><text class="t" x="1070.2" y="344">Spaceman</text>
<rect class="b" x="1018.3" y="352.1" width="26" height="10.9"/><text class="t" x="1031.3" y="358.7">Spaceman</text><rect class="b" x="1057.2" y="352.1" width="26" height="10.9"/><text class="t" x="1070.2" y="358.7">Spaceman</text>
<rect class="b" x="1018.3" y="366.8" width="26" height="10.9"/><text class="t" x="1031.3" y="373.4">Spaceman</text><rect class="b" x="1057.2" y="366.8" width="26" height="10.9"/><text class="t" x="1070.2" y="373.4">Spaceman</text>
<rect class="b" x="1018.3" y="381.4" width="26" height="10.9"/><text class="t" x="1031.3" y="388">Spaceman</text><rect class="b" x="1057.2" y="381.4" width="26" height="10.9"/><text class="t" x="1070.2" y="388">Spaceman</text>
<rect class="b" x="1018.3" y="396" width="26" height="10.9"/><text class="t" x="1031.3" y="402.6">Spaceman</text><rect class="b" x="1057.2" y="396" width="26" height="10.9"/><text class="t" x="1070.2" y="402.6">Spaceman</text>
<rect class="b" x="1018.3" y="410.8" width="26" height="10.9"/><text class="t" x="1031.3" y="417.4">Spaceman</text><rect class="b" x="1057.2" y="410.8" width="26" height="10.9"/><text class="t" x="1070.2" y="417.4">Spaceman</text>
<rect class="b" x="1018.3" y="425.9" width="26" height="10.9"/><text class="t" x="1031.3" y="432.5">Spaceman</text><rect class="b" x="1057.2" y="425.9" width="26" height="10.9"/><text class="t" x="1070.2" y="432.5">Spaceman</text>
<rect class="b" x="1018.3" y="441" width="26" height="10.9"/><text class="t" x="1031.3" y="447.6">Spaceman</text><rect class="b" x="1057.2" y="441" width="26" height="10.9"/><text class="t" x="1070.2" y="447.6">Spaceman</text>
</g>
<g>
<rect class="b" x="1090.1" y="337.4" width="26" height="10.9"/><text class="t" x="1103.1" y="344">Spaceman</text><rect class="b" x="1129" y="337.4" width="26" height="10.9"/><text class="t" x="1142" y="344">Spaceman</text>
<rect class="b" x="1090.1" y="352.1" width="26" height="10.9"/><text class="t" x="1103.1" y="358.7">Spaceman</text><rect class="b" x="1129" y="352.1" width="26" height="10.9"/><text class="t" x="1142" y="358.7">Spaceman</text>
<rect class="b" x="1090.1" y="366.8" width="26" height="10.9"/><text class="t" x="1103.1" y="373.4">Spaceman</text><rect class="b" x="1129" y="366.8" width="26" height="10.9"/><text class="t" x="1142" y="373.4">Spaceman</text>
<rect class="b" x="1090.1" y="381.4" width="26" height="10.9"/><text class="t" x="1103.1" y="388">Spaceman</text><rect class="b" x="1129" y="381.4" width="26" height="10.9"/><text class="t" x="1142" y="388">Spaceman</text>
<rect class="b" x="1090.1" y="396" width="26" height="10.9"/><text class="t" x="1103.1" y="402.6">Spaceman</text><rect class="b" x="1129" y="396" width="26" height="10.9"/><text class="t" x="1142" y="402.6">Spaceman</text>
<rect class="b" x="1090.1" y="410.8" width="26" height="10.9"/><text class="t" x="1103.1" y="417.4">Spaceman</text><rect class="b" x="1129" y="410.8" width="26" height="10.9"/><text class="t" x="1142" y="417.4">Spaceman</text>
<rect class="b" x="1090.1" y="425.9" width="26" height="10.9"/><text class="t" x="1103.1" y="432.5">Spaceman</text><rect class="b" x="1129" y="425.9" width="26" height="10.9"/><text class="t" x="1142" y="432.5">Spaceman</text>
<rect class="b" x="1090.1" y="441" width="26" height="10.9"/><text class="t" x="1103.1" y="447.6">Spaceman</text><rect class="b" x="1129" y="441" width="26" height="10.9"/><text class="t" x="1142" y="447.6">Spaceman</text>
</g>
<g>
<rect class="b" x="1160.6" y="337.4" width="26" height="10.9"/><text class="t" x="1173.6" y="344">Spaceman</text><rect class="b" x="1199.5" y="337.4" width="26" height="10.9"/><text class="t" x="1212.5" y="344">Spaceman</text>
<rect class="b" x="1160.6" y="352.1" width="26" height="10.9"/><text class="t" x="1173.6" y="358.7">Spaceman</text><rect class="b" x="1199.5" y="352.1" width="26" height="10.9"/><text class="t" x="1212.5" y="358.7">Spaceman</text>
<rect class="b" x="1160.6" y="366.8" width="26" height="10.9"/><text class="t" x="1173.6" y="373.4">Spaceman</text><rect class="b" x="1199.5" y="366.8" width="26" height="10.9"/><text class="t" x="1212.5" y="373.4">Spaceman</text>
<rect class="b" x="1160.6" y="381.4" width="26" height="10.9"/><text class="t" x="1173.6" y="388">Spaceman</text><rect class="b" x="1199.5" y="381.4" width="26" height="10.9"/><text class="t" x="1212.5" y="388">Spaceman</text>
<rect class="b" x="1160.6" y="396" width="26" height="10.9"/><text class="t" x="1173.6" y="402.6">Spaceman</text><rect class="b" x="1199.5" y="396" width="26" height="10.9"/><text class="t" x="1212.5" y="402.6">Spaceman</text>
<rect class="b" x="1160.6" y="410.8" width="26" height="10.9"/><text class="t" x="1173.6" y="417.4">Spaceman</text><rect class="b" x="1199.5" y="410.8" width="26" height="10.9"/><text class="t" x="1212.5" y="417.4">Spaceman</text>
<rect class="b" x="1160.6" y="425.9" width="26" height="10.9"/><text class="t" x="1173.6" y="432.5">Spaceman</text><rect class="b" x="1199.5" y="425.9" width="26" height="10.9"/><text class="t" x="1212.5" y="432.5">Spaceman</text>
<rect class="b" x="1160.6" y="441" width="26" height="10.9"/><text class="t" x="1173.6" y="447.6">Spaceman</text><rect class="b" x="1199.5" y="441" width="26" height="10.9"/><text class="t" x="1212.5" y="447.6">Spaceman</text>
</g>

<!-- ===== MED ===== -->
<path class="l" d="M1412.5 162.8V355.4" marker-end="url(#a)"/>
<path class="l" d="M1301 200H1533M1301 249.7V270.3M1281.7 270.3H1320.5M1373.3 249.7V270.3M1353 270.3H1391.7M1460.6 249V270.3M1441.3 270.3H1480M1533 249V270.3M1512.7 270.3H1551.3"/>
<path class="l" d="M1301 200V236.8" marker-end="url(#a)"/><path class="l" d="M1373.3 200V236.8" marker-end="url(#a)"/><path class="l" d="M1460.6 200V236.1" marker-end="url(#a)"/><path class="l" d="M1533 200V236.1" marker-end="url(#a)"/>
<path class="l" d="M1281.7 270.3V291.1" marker-end="url(#a)"/><path class="l" d="M1320.5 270.3V291.1" marker-end="url(#a)"/><path class="l" d="M1353 270.3V291.1" marker-end="url(#a)"/><path class="l" d="M1391.7 270.3V289.7" marker-end="url(#a)"/><path class="l" d="M1441.3 270.3V290.5" marker-end="url(#a)"/><path class="l" d="M1480 270.3V290.5" marker-end="url(#a)"/><path class="l" d="M1512.7 270.3V290.5" marker-end="url(#a)"/><path class="l" d="M1551.3 270.3V289.2" marker-end="url(#a)"/>
<path class="l" d="M1281.7 302.2V322.6" marker-end="url(#a)"/><path class="l" d="M1320.5 302.2V322" marker-end="url(#a)"/><path class="l" d="M1353 302.2V321.4" marker-end="url(#a)"/><path class="l" d="M1391.7 300.8V321.4" marker-end="url(#a)"/><path class="l" d="M1441.3 301.4V322.4" marker-end="url(#a)"/><path class="l" d="M1480 301.4V321.6" marker-end="url(#a)"/><path class="l" d="M1512.7 301.4V320.8" marker-end="url(#a)"/><path class="l" d="M1551.3 300V320.8" marker-end="url(#a)"/>
<rect class="b" x="1285.3" y="237" width="31.4" height="12.8"/><text class="h" x="1301" y="242">A Shift Dr</text><text class="p" x="1301" y="247.8">LT</text>
<rect class="b" x="1357.7" y="237" width="31.4" height="12.8"/><text class="h" x="1373.4" y="242">A Shift Dr</text><text class="p" x="1373.4" y="247.8">LT</text>
<rect class="b" x="1444.9" y="236.3" width="31.4" height="12.8"/><text class="h" x="1460.6" y="241.3">C Shift Dr</text><text class="p" x="1460.6" y="247.1">LT</text>
<rect class="b" x="1517.3" y="236.3" width="31.4" height="12.8"/><text class="h" x="1533" y="241.3">C Shift Dr</text><text class="p" x="1533" y="247.1">LT</text>
<rect class="b" x="1268.7" y="291.3" width="26" height="10.9"/><text class="t" x="1281.7" y="298">PO</text>
<rect class="b" x="1307.5" y="291.3" width="26" height="10.9"/><text class="t" x="1320.5" y="298">PO</text>
<rect class="b" x="1340" y="291.3" width="26" height="10.9"/><text class="t" x="1353" y="298">PO</text>
<rect class="b" x="1378.7" y="289.9" width="26" height="10.9"/><text class="t" x="1391.7" y="296.6">PO</text>
<rect class="b" x="1428.3" y="290.7" width="26" height="10.9"/><text class="t" x="1441.3" y="297.4">PO</text>
<rect class="b" x="1467" y="290.7" width="26" height="10.9"/><text class="t" x="1480" y="297.4">PO</text>
<rect class="b" x="1499.7" y="290.7" width="26" height="10.9"/><text class="t" x="1512.7" y="297.4">PO</text>
<rect class="b" x="1538.3" y="289.4" width="26" height="10.9"/><text class="t" x="1551.3" y="296.1">PO</text>
<rect class="b" x="1268.7" y="322.8" width="26" height="10.9"/><text class="t" x="1281.7" y="329.5">Spaceman</text>
<rect class="b" x="1307" y="322.2" width="26" height="10.9"/><text class="t" x="1320" y="328.9">Spaceman</text>
<rect class="b" x="1339.5" y="321.6" width="26" height="10.9"/><text class="t" x="1352.5" y="328.3">Spaceman</text>
<rect class="b" x="1378.7" y="321.6" width="26" height="10.9"/><text class="t" x="1391.7" y="328.3">Spaceman</text>
<rect class="b" x="1428.3" y="322.6" width="26" height="10.9"/><text class="t" x="1441.3" y="329.3">Spaceman</text>
<rect class="b" x="1466.5" y="321.8" width="26" height="10.9"/><text class="t" x="1479.5" y="328.5">Spaceman</text>
<rect class="b" x="1499.3" y="321" width="26" height="10.9"/><text class="t" x="1512.3" y="327.7">Spaceman</text>
<rect class="b" x="1538.3" y="321" width="26" height="10.9"/><text class="t" x="1551.3" y="327.7">Spaceman</text>
<rect class="b" x="1396.5" y="355.6" width="31.5" height="13"/><text class="h" x="1412.2" y="360.6">B Shift Dr</text><text class="p" x="1412.2" y="366.5" style="font-size:3.8px">Francis Frenc</text>
<path class="l" d="M1412.5 368.6V385.8M1357.5 385.8H1467.5"/>
<path class="l" d="M1357.5 385.8V403.7" marker-end="url(#a)"/><path class="l" d="M1396.3 385.8V403.7" marker-end="url(#a)"/><path class="l" d="M1428.7 385.8V402.2" marker-end="url(#a)"/><path class="l" d="M1467.5 385.8V402.2" marker-end="url(#a)"/>
<path class="l" d="M1357.5 414.6V434.8" marker-end="url(#a)"/><path class="l" d="M1396.3 414.6V433.8" marker-end="url(#a)"/><path class="l" d="M1428.7 413V433" marker-end="url(#a)"/><path class="l" d="M1467.5 413V433" marker-end="url(#a)"/>
<rect class="b" x="1344.5" y="403.9" width="26" height="10.7"/><text class="t" x="1357.5" y="410.5">PO</text>
<rect class="b" x="1383.3" y="403.9" width="26" height="10.7"/><text class="t" x="1396.3" y="410.5">PO</text>
<rect class="b" x="1415.7" y="402.4" width="26" height="10.7"/><text class="t" x="1428.7" y="409">PO</text>
<rect class="b" x="1454.5" y="402.4" width="26" height="10.7"/><text class="t" x="1467.5" y="409">PO</text>
<rect class="b" x="1344.5" y="435" width="26" height="10.9"/><text class="t" x="1357.5" y="441.7">Spaceman</text>
<rect class="b" x="1383" y="434" width="26" height="10.9"/><text class="t" x="1396" y="440.7">Spaceman</text>
<rect class="b" x="1415.5" y="433.2" width="26" height="10.9"/><text class="t" x="1428.5" y="439.9">Spaceman</text>
<rect class="b" x="1454.5" y="433.2" width="26" height="10.9"/><text class="t" x="1467.5" y="439.9">Spaceman</text>

<!-- ===== ENG ===== -->
<path class="l" d="M242.5 408.3V439.5M151 439.5H569"/>
<path class="l" d="M242.5 427.6H254.3" marker-end="url(#a)"/>
<path class="l" d="M151 439.5V470.6" marker-end="url(#a)"/><path class="l" d="M353.6 439.5V468.1" marker-end="url(#a)"/><path class="l" d="M569 439.5V469.8" marker-end="url(#a)"/>
<rect class="b" x="254.5" y="421.4" width="31.5" height="12.9"/><text class="g" x="270.2" y="426.8">ENG Chief</text><text class="p" x="270.2" y="432.3">SCPO</text>
<rect class="b" x="135.3" y="470.8" width="31.4" height="13.1"/><text class="g" x="151" y="476.2">A Shift/CC</text><text class="p" x="151" y="481.8">LTJG</text>
<rect class="b" x="337.9" y="468.3" width="31.4" height="13.1"/><text class="g" x="353.6" y="473.7">B Shift/CC</text><text class="p" x="353.6" y="479.3">LTJG</text>
<rect class="b" x="553" y="470" width="31.5" height="13"/><text class="g" x="568.7" y="475.4">C Shift/CC</text><text class="p" x="568.7" y="481">ENS</text>
<!-- A shift -->
<path class="l" d="M151 483.9V493.6M115.7 493.6H238M238 516.7V523.5M203 523.5H272.3"/>
<path class="l" d="M115.7 493.6V503.6" marker-end="url(#a)"/><path class="l" d="M150.8 493.6V503.6" marker-end="url(#a)"/><path class="l" d="M238 493.6V503.6" marker-end="url(#a)"/>
<path class="l" d="M203 523.5V529.6" marker-end="url(#a)"/><path class="l" d="M237.5 523.5V529.8" marker-end="url(#a)"/><path class="l" d="M272.3 523.5V530" marker-end="url(#a)"/>
<rect class="b" x="100.1" y="503.8" width="31.2" height="12.9"/><text class="p" x="115.7" y="509.3">PP 1</text><text class="p" x="115.7" y="514.9">CPO</text>
<rect class="b" x="135" y="503.8" width="31.5" height="12.9"/><text class="p" x="150.8" y="509.3">PP 2</text><text class="p" x="150.8" y="514.9">CPO</text>
<rect class="b" x="222.3" y="503.8" width="31.4" height="12.9"/><text class="p" x="238" y="509.3">DRV</text><text class="p" x="238" y="514.9">CPO</text>
<rect class="b" x="187.1" y="529.8" width="31.4" height="12.9"/><text class="h" x="202.8" y="535">MAIN</text><text class="p" x="202.8" y="540.7">PO</text>
<rect class="b" x="221.7" y="530" width="31.4" height="12.9"/><text class="h" x="237.4" y="535.2">AUX</text><text class="p" x="237.4" y="540.9">PO</text>
<rect class="b" x="256.5" y="530.2" width="31.4" height="12.9"/><text class="h" x="272.2" y="535.4">MAN</text><text class="p" x="272.2" y="541.1">PO</text>
<path class="l" d="M115.7 516.7V626.2M115.7 559H119.7M115.7 571.9H119.7M115.7 585.4H119.7M115.7 599.8H119.7M115.7 612.6H119.7M115.7 626.2H119.7
M150.9 516.7V626.5M150.9 559.3H154.5M150.9 572.2H154.5M150.9 585.7H154.5M150.9 600.1H154.5M150.9 612.9H154.5M150.9 626.5H154.5
M203 542.7V586.6M203 560.2H207.3M203 573.1H207.3M203 586.6H207.3
M237.5 542.9V587M237.5 560.5H242M237.5 573.4H242M237.5 587H242
M272.3 543.1V587.4M272.3 560.8H278M272.3 573.7H278M272.3 587.4H278"/>
<g>
<rect class="b" x="119.7" y="553.6" width="26" height="10.7"/><text class="t" x="132.7" y="560.2">Spaceman</text>
<rect class="b" x="119.7" y="566.5" width="26" height="10.7"/><text class="t" x="132.7" y="573.1">Spaceman</text>
<rect class="b" x="119.7" y="580" width="26" height="10.7"/><text class="t" x="132.7" y="586.6">Spaceman</text>
<rect class="b" x="119.7" y="594.4" width="26" height="10.7"/><text class="t" x="132.7" y="601">Spaceman</text>
<rect class="b" x="119.7" y="607.2" width="26" height="10.7"/><text class="t" x="132.7" y="613.8">Spaceman</text>
<rect class="b" x="119.7" y="620.8" width="26" height="10.7"/><text class="t" x="132.7" y="627.4">Spaceman</text>
<rect class="b" x="154.5" y="553.9" width="26" height="10.7"/><text class="t" x="167.5" y="560.5">Spaceman</text>
<rect class="b" x="154.5" y="566.8" width="26" height="10.7"/><text class="t" x="167.5" y="573.4">Spaceman</text>
<rect class="b" x="154.5" y="580.3" width="26" height="10.7"/><text class="t" x="167.5" y="586.9">Spaceman</text>
<rect class="b" x="154.5" y="594.7" width="26" height="10.7"/><text class="t" x="167.5" y="601.3">Spaceman</text>
<rect class="b" x="154.5" y="607.5" width="26" height="10.7"/><text class="t" x="167.5" y="614.1">Spaceman</text>
<rect class="b" x="154.5" y="621.1" width="26" height="10.7"/><text class="t" x="167.5" y="627.7">Spaceman</text>
<rect class="b" x="207.3" y="554.8" width="26" height="10.7"/><text class="t" x="220.3" y="561.4">Spaceman</text>
<rect class="b" x="207.3" y="567.7" width="26" height="10.7"/><text class="t" x="220.3" y="574.3">Spaceman</text>
<rect class="b" x="207.3" y="581.2" width="26" height="10.7"/><text class="t" x="220.3" y="587.8">Spaceman</text>
<rect class="b" x="242" y="555.1" width="26" height="10.7"/><text class="t" x="255" y="561.7">Spaceman</text>
<rect class="b" x="242" y="568" width="26" height="10.7"/><text class="t" x="255" y="574.6">Spaceman</text>
<rect class="b" x="242" y="581.6" width="26" height="10.7"/><text class="t" x="255" y="588.2">Spaceman</text>
<rect class="b" x="278" y="555.4" width="26" height="10.7"/><text class="t" x="291" y="562">Spaceman</text>
<rect class="b" x="278" y="568.3" width="26" height="10.7"/><text class="t" x="291" y="574.9">Spaceman</text>
<rect class="b" x="278" y="582" width="26" height="10.7"/><text class="t" x="291" y="588.6">Spaceman</text>
</g>
<!-- B shift -->
<path class="l" d="M353.6 481.4V493M318.6 493H441.2M441.2 516.7V523.3M405.5 523.3H475"/>
<path class="l" d="M318.6 493V503.3" marker-end="url(#a)"/><path class="l" d="M353.6 493V503.3" marker-end="url(#a)"/><path class="l" d="M441.2 493V503.6" marker-end="url(#a)"/>
<path class="l" d="M405.5 523.3V529.5" marker-end="url(#a)"/><path class="l" d="M440.5 523.3V529.5" marker-end="url(#a)"/><path class="l" d="M475 523.3V530" marker-end="url(#a)"/>
<rect class="b" x="302.9" y="503.5" width="31.4" height="12.9"/><text class="p" x="318.6" y="509">PP 1</text><text class="p" x="318.6" y="514.6">CPO</text>
<rect class="b" x="337.9" y="503.5" width="31.4" height="12.9"/><text class="p" x="353.6" y="509">PP 2</text><text class="p" x="353.6" y="514.6">CPO</text>
<rect class="b" x="425.5" y="503.8" width="31.5" height="12.9"/><text class="p" x="441.2" y="509.3">DRV</text><text class="p" x="441.2" y="514.9">CPO</text>
<rect class="b" x="389.7" y="529.7" width="31.4" height="13"/><text class="h" x="405.4" y="534.9">MAIN</text><text class="p" x="405.4" y="540.6">PO</text>
<rect class="b" x="424.5" y="529.7" width="31.5" height="13"/><text class="h" x="440.2" y="534.9">AUX</text><text class="p" x="440.2" y="540.6">PO</text>
<rect class="b" x="459.2" y="530.2" width="31.5" height="13"/><text class="h" x="475" y="535.4">MAN</text><text class="p" x="475" y="541.1">PO</text>
<path class="l" d="M318.7 516.4V627.8M318.7 560.6H324M318.7 573.5H324M318.7 587H324M318.7 601.4H324M318.7 614.3H324M318.7 627.8H324
M353.7 516.4V628M353.7 560.8H359M353.7 573.7H359M353.7 587.2H359M353.7 601.6H359M353.7 614.5H359M353.7 628H359
M405.5 542.7V586.4M405.5 560.2H410.3M405.5 573.1H410.3M405.5 586.4H410.3
M440.5 542.7V586.4M440.5 560.2H444.8M440.5 573.1H444.8M440.5 586.4H444.8
M475 543.2V586.8M475 560.5H481M475 573.4H481M475 586.8H481"/>
<g>
<rect class="b" x="324" y="555.3" width="26" height="10.7"/><text class="t" x="337" y="561.9">Spaceman</text>
<rect class="b" x="324" y="568.2" width="26" height="10.7"/><text class="t" x="337" y="574.8">Spaceman</text>
<rect class="b" x="324" y="581.7" width="26" height="10.7"/><text class="t" x="337" y="588.3">Spaceman</text>
<rect class="b" x="324" y="596.1" width="26" height="10.7"/><text class="t" x="337" y="602.7">Spaceman</text>
<rect class="b" x="324" y="609" width="26" height="10.7"/><text class="t" x="337" y="615.6">Spaceman</text>
<rect class="b" x="324" y="622.5" width="26" height="10.7"/><text class="t" x="337" y="629.1">Spaceman</text>
<rect class="b" x="359" y="555.5" width="26" height="10.7"/><text class="t" x="372" y="562.1">Spaceman</text>
<rect class="b" x="359" y="568.4" width="26" height="10.7"/><text class="t" x="372" y="575">Spaceman</text>
<rect class="b" x="359" y="581.9" width="26" height="10.7"/><text class="t" x="372" y="588.5">Spaceman</text>
<rect class="b" x="359" y="596.3" width="26" height="10.7"/><text class="t" x="372" y="602.9">Spaceman</text>
<rect class="b" x="359" y="609.2" width="26" height="10.7"/><text class="t" x="372" y="615.8">Spaceman</text>
<rect class="b" x="359" y="622.7" width="26" height="10.7"/><text class="t" x="372" y="629.3">Spaceman</text>
<rect class="b" x="410.3" y="554.9" width="26" height="10.8"/><text class="t" x="423.3" y="561.5">Spaceman</text>
<rect class="b" x="410.3" y="567.8" width="26" height="10.8"/><text class="t" x="423.3" y="574.4">Spaceman</text>
<rect class="b" x="410.3" y="581.1" width="26" height="10.8"/><text class="t" x="423.3" y="587.7">Spaceman</text>
<rect class="b" x="444.8" y="555.2" width="26" height="10.8"/><text class="t" x="457.8" y="561.8">Spaceman</text>
<rect class="b" x="444.8" y="568.1" width="26" height="10.8"/><text class="t" x="457.8" y="574.7">Spaceman</text>
<rect class="b" x="444.8" y="581.4" width="26" height="10.8"/><text class="t" x="457.8" y="588">Spaceman</text>
<rect class="b" x="481" y="555.5" width="26" height="10.8"/><text class="t" x="494" y="562.1">Spaceman</text>
<rect class="b" x="481" y="568.4" width="26" height="10.8"/><text class="t" x="494" y="575">Spaceman</text>
<rect class="b" x="481" y="581.8" width="26" height="10.8"/><text class="t" x="494" y="588.4">Spaceman</text>
</g>
<!-- C shift -->
<path class="l" d="M569 483V493M532.5 493H603"/>
<path class="l" d="M532.5 493V502.1" marker-end="url(#a)"/><path class="l" d="M568.2 493V502.1" marker-end="url(#a)"/><path class="l" d="M603 493V502.8" marker-end="url(#a)"/>
<rect class="b" x="516.7" y="502.3" width="31.5" height="13"/><text class="h" x="532.5" y="507.6">PP1</text><text class="p" x="532.5" y="513.3">PO</text>
<rect class="b" x="552.5" y="502.5" width="31.4" height="13"/><text class="p" x="568.2" y="507.8">PP1</text><text class="p" x="568.2" y="513.5">PO</text>
<rect class="b" x="587.4" y="503" width="31.5" height="13"/><text class="p" x="603.1" y="508.3">DRV</text><text class="p" x="603.1" y="514">PO</text>
<path class="l" d="M532.7 515.3V573.4M532.7 560.7H538.4M532.7 573.4H538.4M568.3 515.5V573.8M568.3 561H573.3M568.3 573.8H573.3M603 516V574.2M603 561.3H609.3M603 574.2H609.3"/>
<rect class="b" x="538.4" y="555.3" width="26" height="10.8"/><text class="t" x="551.4" y="561.9">Spaceman</text>
<rect class="b" x="538.4" y="568" width="26" height="10.8"/><text class="t" x="551.4" y="574.6">Spaceman</text>
<rect class="b" x="573.3" y="555.6" width="26" height="10.8"/><text class="t" x="586.3" y="562.2">Spaceman</text>
<rect class="b" x="573.3" y="568.4" width="26" height="10.8"/><text class="t" x="586.3" y="575">Spaceman</text>
<rect class="b" x="609.3" y="555.9" width="26" height="10.8"/><text class="t" x="622.3" y="562.5">Spaceman</text>
<rect class="b" x="609.3" y="568.8" width="26" height="10.8"/><text class="t" x="622.3" y="575.4">Spaceman</text>

<!-- ===== OPS ===== -->
<path class="l" d="M1247.9 507.1V522.1" marker-end="url(#a)"/>
<path d="M1249 515.5H1402.8" fill="none" stroke="#F5CE55" stroke-width=".45" stroke-dasharray="3 3" marker-end="url(#a)"/>
<rect x="1304" y="513.5" width="38" height="4.5" fill="#fff"/>
<text x="1323" y="517.3" style="font-size:3px;font-weight:bold;fill:#2c5f8c">MARINE CONTINGENT</text>
<rect class="b" x="1231.9" y="522.3" width="31.4" height="12.9"/><text class="p" x="1247.6" y="527.6" style="font-size:3.8px">OPS Chief</text><text class="p" x="1247.6" y="533" style="font-size:3.8px">SCPO Brown</text>
<path class="l" d="M1247.6 535.2V548.8M1199 548.8H1301.3"/>
<path class="l" d="M1199 548.8V562.9" marker-end="url(#a)"/><path class="l" d="M1247.6 548.8V561.6" marker-end="url(#a)"/><path class="l" d="M1301.3 548.8V562.9" marker-end="url(#a)"/>
<rect class="b" x="1182.9" y="563.1" width="31.4" height="12.9"/><text class="p" x="1198.6" y="568.5" style="font-size:3.8px">OPS A MGR</text><text class="p" x="1198.6" y="573.9" style="font-size:3.8px">PO</text>
<rect class="b" x="1231.7" y="561.8" width="31.4" height="12.9"/><text class="p" x="1247.4" y="567.2" style="font-size:3.8px">OPS B MGR</text><text class="p" x="1247.4" y="572.6" style="font-size:3.8px">PO</text>
<rect class="b" x="1285.5" y="563.1" width="31.4" height="12.9"/><text class="p" x="1301.2" y="568.5" style="font-size:3.8px">OPS C MGR</text><text class="p" x="1301.2" y="573.9" style="font-size:3.8px">PO</text>
<path class="l" d="M1199.1 576V694.4M1199.1 591.2H1205.5M1199.1 605.8H1205.5M1199.1 620.5H1205.5M1199.1 635.2H1205.5M1199.1 649.9H1205.5M1199.1 664.5H1205.5M1199.1 679.4H1205.5M1199.1 694.4H1205.5
M1247.7 574.7V694.4M1247.7 591.2H1253.9M1247.7 605.8H1253.9M1247.7 620.5H1253.9M1247.7 635.2H1253.9M1247.7 649.9H1253.9M1247.7 664.5H1253.9M1247.7 679.4H1253.9M1247.7 694.4H1253.9
M1301.5 576V694.4M1301.5 591.2H1307.9M1301.5 605.8H1307.9M1301.5 620.5H1307.9M1301.5 635.2H1307.9M1301.5 649.9H1307.9M1301.5 664.5H1307.9M1301.5 679.4H1307.9M1301.5 694.4H1307.9"/>
<g>
<rect class="b" x="1205.5" y="585.9" width="26.2" height="10.7"/><text class="t" x="1218.6" y="592.5">Spaceman</text>
<rect class="b" x="1205.5" y="600.5" width="26.2" height="10.7"/><text class="t" x="1218.6" y="607.1">Spaceman</text>
<rect class="b" x="1205.5" y="615.2" width="26.2" height="10.7"/><text class="t" x="1218.6" y="621.8">Spaceman</text>
<rect class="b" x="1205.5" y="629.9" width="26.2" height="10.7"/><text class="t" x="1218.6" y="636.5">Spaceman</text>
<rect class="b" x="1205.5" y="644.6" width="26.2" height="10.7"/><text class="t" x="1218.6" y="651.2">Spaceman</text>
<rect class="b" x="1205.5" y="659.2" width="26.2" height="10.7"/><text class="t" x="1218.6" y="665.8">Spaceman</text>
<rect class="b" x="1205.5" y="674.1" width="26.2" height="10.7"/><text class="t" x="1218.6" y="680.7">Spaceman</text>
<rect class="b" x="1205.5" y="689.1" width="26.2" height="10.7"/><text class="t" x="1218.6" y="695.7">Spaceman</text>
<rect class="b" x="1253.9" y="585.9" width="26.2" height="10.7"/><text class="t" x="1267" y="592.5">Spaceman</text>
<rect class="b" x="1253.9" y="600.5" width="26.2" height="10.7"/><text class="t" x="1267" y="607.1">Spaceman</text>
<rect class="b" x="1253.9" y="615.2" width="26.2" height="10.7"/><text class="t" x="1267" y="621.8">Spaceman</text>
<rect class="b" x="1253.9" y="629.9" width="26.2" height="10.7"/><text class="t" x="1267" y="636.5">Spaceman</text>
<rect class="b" x="1253.9" y="644.6" width="26.2" height="10.7"/><text class="t" x="1267" y="651.2">Spaceman</text>
<rect class="b" x="1253.9" y="659.2" width="26.2" height="10.7"/><text class="t" x="1267" y="665.8">Spaceman</text>
<rect class="b" x="1253.9" y="674.1" width="26.2" height="10.7"/><text class="t" x="1267" y="680.7">Spaceman</text>
<rect class="b" x="1253.9" y="689.1" width="26.2" height="10.7"/><text class="t" x="1267" y="695.7">Spaceman</text>
<rect class="b" x="1307.9" y="585.9" width="26.2" height="10.7"/><text class="t" x="1321" y="592.5">Spaceman</text>
<rect class="b" x="1307.9" y="600.5" width="26.2" height="10.7"/><text class="t" x="1321" y="607.1">Spaceman</text>
<rect class="b" x="1307.9" y="615.2" width="26.2" height="10.7"/><text class="t" x="1321" y="621.8">Spaceman</text>
<rect class="b" x="1307.9" y="629.9" width="26.2" height="10.7"/><text class="t" x="1321" y="636.5">Spaceman</text>
<rect class="b" x="1307.9" y="644.6" width="26.2" height="10.7"/><text class="t" x="1321" y="651.2">Spaceman</text>
<rect class="b" x="1307.9" y="659.2" width="26.2" height="10.7"/><text class="t" x="1321" y="665.8">Spaceman</text>
<rect class="b" x="1307.9" y="674.1" width="26.2" height="10.7"/><text class="t" x="1321" y="680.7">Spaceman</text>
<rect class="b" x="1307.9" y="689.1" width="26.2" height="10.7"/><text class="t" x="1321" y="695.7">Spaceman</text>
</g>

<!-- ===== PLT ===== -->
<path class="l" d="M1426.7 529V545" marker-end="url(#a)"/>
<rect class="b" x="1410.7" y="545.2" width="31.4" height="12.9"/><text class="p" x="1426.4" y="550.5">PLT/SGT</text><text class="p" x="1426.4" y="556">GYSGT</text>
<path class="l" d="M1426.4 558.1V575.6M1377.5 575.6H1480"/>
<path class="l" d="M1377.5 575.6V593.2" marker-end="url(#a)"/><path class="l" d="M1426.3 575.6V592.1" marker-end="url(#a)"/><path class="l" d="M1480 575.6V593.2" marker-end="url(#a)"/>
<rect class="b" x="1361.7" y="593.4" width="31.4" height="12.7"/><text class="p" x="1377.4" y="598.7">A SQD</text><text class="p" x="1377.4" y="604.2">SGT</text>
<rect class="b" x="1410.3" y="592.3" width="31.4" height="12.7"/><text class="p" x="1426" y="597.6">B SQD</text><text class="p" x="1426" y="603.1">SGT</text>
<rect class="b" x="1464.3" y="593.4" width="31.4" height="12.7"/><text class="p" x="1480" y="598.7">C SQD</text><text class="p" x="1480" y="604.2">SGT</text>
<path class="l" d="M1378 606.1V739M1378 621H1384.5M1378 635.7H1384.5M1378 650.4H1384.5M1378 665.1H1384.5M1378 679.9H1384.5M1378 694.4H1384.5M1378 709.5H1384.5M1378 724.5H1384.5M1378 739H1384.5
M1426.3 605V739M1426.3 621H1432.7M1426.3 635.7H1432.7M1426.3 650.4H1432.7M1426.3 665.1H1432.7M1426.3 679.9H1432.7M1426.3 694.4H1432.7M1426.3 709.5H1432.7M1426.3 724.5H1432.7M1426.3 739H1432.7
M1480 606.1V739M1480 621H1486.5M1480 635.7H1486.5M1480 650.4H1486.5M1480 665.1H1486.5M1480 679.9H1486.5M1480 694.4H1486.5M1480 709.5H1486.5M1480 724.5H1486.5M1480 739H1486.5"/>
<g>
<rect class="b" x="1384.5" y="615.7" width="26.2" height="10.7"/><text class="t" x="1397.6" y="622.3">Marine</text>
<rect class="b" x="1384.5" y="630.4" width="26.2" height="10.7"/><text class="t" x="1397.6" y="637">Marine</text>
<rect class="b" x="1384.5" y="645.1" width="26.2" height="10.7"/><text class="t" x="1397.6" y="651.7">Marine</text>
<rect class="b" x="1384.5" y="659.8" width="26.2" height="10.7"/><text class="t" x="1397.6" y="666.4">Marine</text>
<rect class="b" x="1384.5" y="674.6" width="26.2" height="10.7"/><text class="t" x="1397.6" y="681.2">Marine</text>
<rect class="b" x="1384.5" y="689.1" width="26.2" height="10.7"/><text class="t" x="1397.6" y="695.7">Marine</text>
<rect class="b" x="1384.5" y="704.2" width="26.2" height="10.7"/><text class="t" x="1397.6" y="710.8">Marine</text>
<rect class="b" x="1384.5" y="719.2" width="26.2" height="10.7"/><text class="t" x="1397.6" y="725.8">Marine</text>
<rect class="b" x="1384.5" y="733.7" width="26.2" height="10.7"/><text class="t" x="1397.6" y="740.3">Marine</text>
<rect class="b" x="1432.7" y="615.7" width="26.2" height="10.7"/><text class="t" x="1445.8" y="622.3">Marine</text>
<rect class="b" x="1432.7" y="630.4" width="26.2" height="10.7"/><text class="t" x="1445.8" y="637">Marine</text>
<rect class="b" x="1432.7" y="645.1" width="26.2" height="10.7"/><text class="t" x="1445.8" y="651.7">Marine</text>
<rect class="b" x="1432.7" y="659.8" width="26.2" height="10.7"/><text class="t" x="1445.8" y="666.4">Marine</text>
<rect class="b" x="1432.7" y="674.6" width="26.2" height="10.7"/><text class="t" x="1445.8" y="681.2">Marine</text>
<rect class="b" x="1432.7" y="689.1" width="26.2" height="10.7"/><text class="t" x="1445.8" y="695.7">Marine</text>
<rect class="b" x="1432.7" y="704.2" width="26.2" height="10.7"/><text class="t" x="1445.8" y="710.8">Marine</text>
<rect class="b" x="1432.7" y="719.2" width="26.2" height="10.7"/><text class="t" x="1445.8" y="725.8">Marine</text>
<rect class="b" x="1432.7" y="733.7" width="26.2" height="10.7"/><text class="t" x="1445.8" y="740.3">Marine</text>
<rect class="b" x="1486.5" y="615.7" width="26.2" height="10.7"/><text class="t" x="1499.6" y="622.3">Marine</text>
<rect class="b" x="1486.5" y="630.4" width="26.2" height="10.7"/><text class="t" x="1499.6" y="637">Marine</text>
<rect class="b" x="1486.5" y="645.1" width="26.2" height="10.7"/><text class="t" x="1499.6" y="651.7">Marine</text>
<rect class="b" x="1486.5" y="659.8" width="26.2" height="10.7"/><text class="t" x="1499.6" y="666.4">Marine</text>
<rect class="b" x="1486.5" y="674.6" width="26.2" height="10.7"/><text class="t" x="1499.6" y="681.2">Marine</text>
<rect class="b" x="1486.5" y="689.1" width="26.2" height="10.7"/><text class="t" x="1499.6" y="695.7">Marine</text>
<rect class="b" x="1486.5" y="704.2" width="26.2" height="10.7"/><text class="t" x="1499.6" y="710.8">Marine</text>
<rect class="b" x="1486.5" y="719.2" width="26.2" height="10.7"/><text class="t" x="1499.6" y="725.8">Marine</text>
<rect class="b" x="1486.5" y="733.7" width="26.2" height="10.7"/><text class="t" x="1499.6" y="740.3">Marine</text>
</g>
</svg>
</body></html>
